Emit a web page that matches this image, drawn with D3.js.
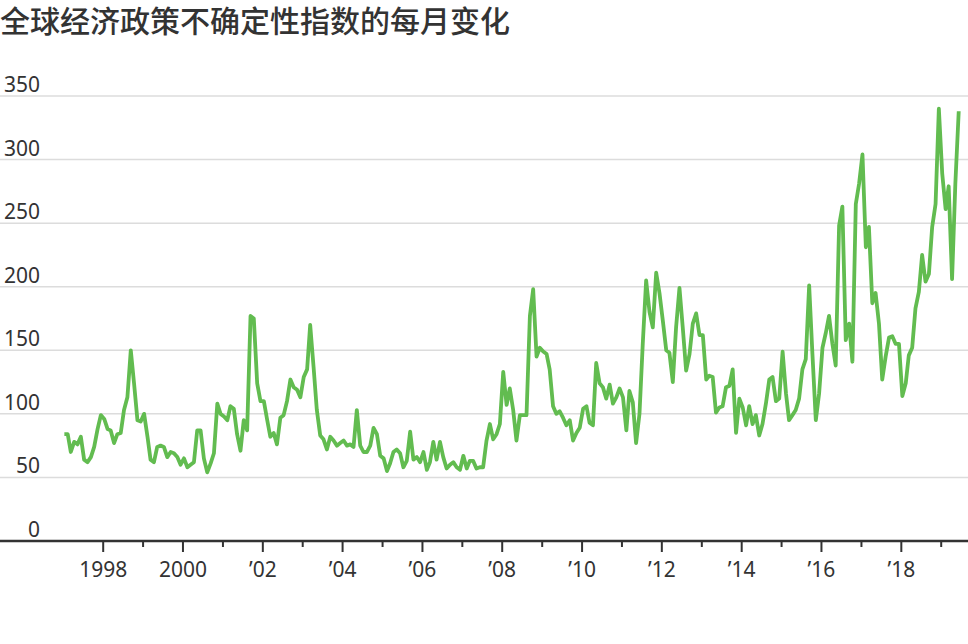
<!DOCTYPE html>
<html>
<head>
<meta charset="utf-8">
<script src="https://cdn.jsdelivr.net/npm/d3@7"></script>
<style>
  html, body { margin: 0; padding: 0; background: #fff; }
  svg { display: block; }
</style>
</head>
<body>
<svg id="chart" width="968" height="644"></svg>
<script>
// ---- Data ----
const titleText = "全球经济政策不确定性指数的每月变化";
const startYear = 1997;   // first observation: January 1997, monthly
const values = [
  84, 84, 70, 78, 76, 82, 64, 62, 66, 74, 88, 99,          // 1997
  96, 88, 87, 77, 84, 85, 103, 113, 150, 124, 95, 94,      // 1998
  100, 82, 64, 62, 74, 75, 74, 66, 70, 69, 66, 60,         // 1999
  65, 58, 60, 62, 87, 87, 65, 54, 61, 69, 108, 100,        // 2000
  98, 95, 106, 104, 84, 71, 95, 87, 177, 175, 124, 110,    // 2001
  110, 95, 82, 85, 76, 97, 99, 110, 127, 121, 119, 113,    // 2002
  129, 135, 170, 137, 103, 83, 80, 72, 82, 79, 75, 77,     // 2003
  79, 75, 76, 74, 103, 75, 70, 70, 75, 89, 84, 67,         // 2004
  65, 55, 61, 70, 72, 69, 58, 63, 86, 64, 66, 62,          // 2005
  70, 56, 62, 78, 64, 78, 66, 57, 60, 62, 58, 56,          // 2006
  67, 57, 63, 63, 57, 58, 58, 79, 92, 80, 84, 92,          // 2007
  133, 107, 120, 103, 79, 99, 99, 99, 177, 198, 145, 152,  // 2008
  149, 147, 135, 106, 100, 102, 97, 91, 95, 79, 85, 89,    // 2009
  104, 106, 93, 91, 140, 124, 121, 112, 123, 108, 113, 120,// 2010
  113, 87, 118, 109, 77, 100, 155, 205, 180, 168, 211, 195,// 2011
  173, 150, 148, 125, 168, 199, 168, 134, 147, 171, 179, 162, // 2012
  162, 127, 130, 129, 101, 105, 106, 121, 122, 135, 85, 112,  // 2013
  105, 91, 106, 92, 99, 83, 92, 108, 127, 129, 110, 112,   // 2014
  149, 116, 95, 99, 103, 112, 135, 143, 201, 147, 95, 116, // 2015
  152, 164, 177, 155, 138, 248, 263, 158, 171, 141, 265, 281, // 2016
  304, 231, 247, 187, 195, 171, 127, 145, 160, 161, 155, 155, // 2017
  114, 124, 146, 152, 183, 196, 225, 204, 210, 247, 265, 340, // 2018
  289, 261, 279, 206, 281, 338                              // 2019
];
const yTicks = [0, 50, 100, 150, 200, 250, 300, 350];
const majorTickYears = [1998, 2000, 2002, 2004, 2006, 2008, 2010, 2012, 2014, 2016, 2018];
const minorTickYears = [1999, 2001, 2003, 2005, 2007, 2009, 2011, 2013, 2015, 2017, 2019];
const tickLabels = ["1998", "2000", "\u201902", "\u201904", "\u201906", "\u201908",
                    "\u201910", "\u201912", "\u201914", "\u201916", "\u201918"];

// ---- Setup ----
const W = 968, H = 644;
const svg = d3.select("#chart");
const lineColor = "#62bc50";
const textColor = "#333333";
const labelFont = "'Noto Sans', 'Open Sans', sans-serif";

const data = values.map((v, i) => ({ date: new Date(startYear, i, 15), value: v }));

const x = d3.scaleTime()
  .domain([new Date(1998, 0, 1), new Date(2019, 0, 1)])
  .range([102.7, 940.7]);
const y = d3.scaleLinear().domain([0, 350]).range([541, 96]);

// Title
svg.append("text")
  .attr("x", 0).attr("y", 32)
  .attr("font-family", "'Noto Sans CJK SC', sans-serif")
  .attr("font-size", 30)
  .attr("font-weight", 500)
  .attr("fill", textColor)
  .text(titleText);

// Gridlines
svg.append("g").selectAll("line")
  .data(yTicks.filter(d => d > 0))
  .join("line")
  .attr("x1", 0).attr("x2", W)
  .attr("y1", d => y(d)).attr("y2", d => y(d))
  .attr("stroke", "#dcdcdc")
  .attr("stroke-width", 1.5);

// Y labels
svg.append("g").selectAll("text")
  .data(yTicks)
  .join("text")
  .attr("x", 40)
  .attr("y", d => y(d) - 4)
  .attr("text-anchor", "end")
  .attr("font-family", labelFont)
  .attr("font-size", 21)
  .attr("fill", textColor)
  .text(d => d);

// Line
const line = d3.line()
  .x(d => x(d.date))
  .y(d => y(d.value));
svg.append("path")
  .datum(data)
  .attr("fill", "none")
  .attr("stroke", lineColor)
  .attr("stroke-width", 3.8)
  .attr("stroke-linejoin", "round")
  .attr("d", line);

// X axis (baseline)
svg.append("line")
  .attr("x1", 0).attr("x2", W)
  .attr("y1", y(0)).attr("y2", y(0))
  .attr("stroke", textColor)
  .attr("stroke-width", 2.5);

// Major ticks with labels
const majorAxis = d3.axisBottom(x)
  .tickValues(majorTickYears.map(yr => new Date(yr, 0, 1)))
  .tickSize(11)
  .tickPadding(10)
  .tickFormat((d, i) => tickLabels[i]);
const gMajor = svg.append("g")
  .attr("transform", `translate(0,${y(0)})`)
  .call(majorAxis);
gMajor.select(".domain").remove();
gMajor.selectAll(".tick line").attr("stroke", textColor).attr("stroke-width", 2);
gMajor.selectAll(".tick text")
  .attr("font-family", labelFont)
  .attr("font-size", 21)
  .attr("fill", textColor);

// Minor ticks
const minorAxis = d3.axisBottom(x)
  .tickValues(minorTickYears.map(yr => new Date(yr, 0, 1)))
  .tickSize(6)
  .tickFormat("");
const gMinor = svg.append("g")
  .attr("transform", `translate(0,${y(0)})`)
  .call(minorAxis);
gMinor.select(".domain").remove();
gMinor.selectAll(".tick line").attr("stroke", textColor).attr("stroke-width", 2);
</script>
</body>
</html>
